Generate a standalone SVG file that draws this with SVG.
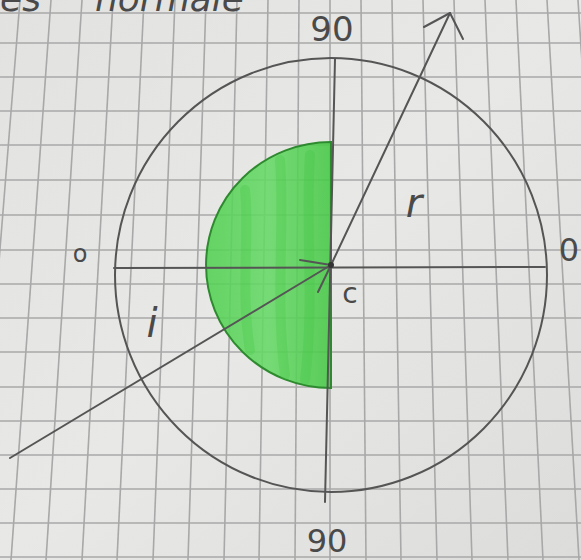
<svg xmlns="http://www.w3.org/2000/svg" width="581" height="560" viewBox="0 0 581 560">
<defs>
<linearGradient id="paper" x1="0" y1="0" x2="1" y2="1">
<stop offset="0" stop-color="#e2e2e0"/>
<stop offset="0.5" stop-color="#e8e8e6"/>
<stop offset="1" stop-color="#dcdcda"/>
</linearGradient>
<linearGradient id="green" x1="0" y1="0" x2="1" y2="0">
<stop offset="0" stop-color="#52d052"/>
<stop offset="0.5" stop-color="#66d966"/>
<stop offset="1" stop-color="#45c845"/>
</linearGradient>
</defs>
<style>
.grid{fill:none;stroke:#a8a8a8;stroke-width:1.6}
.pencil{fill:none;stroke:#555;stroke-width:2;stroke-linecap:round;stroke-linejoin:round}
.lbl{font-family:"DejaVu Sans","Liberation Sans",sans-serif;fill:#4a4a4a}
</style>
<rect x="0" y="0" width="581" height="560" fill="url(#paper)"/>
<g id="grid">
<g class="grid">
<line x1="20" y1="0" x2="-25" y2="560"/>
<line x1="51" y1="0" x2="11" y2="560"/>
<line x1="82" y1="0" x2="46" y2="560"/>
<line x1="113" y1="0" x2="82" y2="560"/>
<line x1="144" y1="0" x2="117" y2="560"/>
<line x1="175" y1="0" x2="153" y2="560"/>
<line x1="206" y1="0" x2="188" y2="560"/>
<line x1="237" y1="0" x2="224" y2="560"/>
<line x1="268" y1="0" x2="259" y2="560"/>
<line x1="299" y1="0" x2="295" y2="560"/>
<line x1="330" y1="0" x2="330" y2="560"/>
<line x1="361" y1="0" x2="366" y2="560"/>
<line x1="392" y1="0" x2="401" y2="560"/>
<line x1="423" y1="0" x2="437" y2="560"/>
<line x1="454" y1="0" x2="472" y2="560"/>
<line x1="485" y1="0" x2="508" y2="560"/>
<line x1="516" y1="0" x2="543" y2="560"/>
<line x1="547" y1="0" x2="579" y2="560"/>
<line x1="578" y1="0" x2="614" y2="560"/>
<line x1="0" y1="13" x2="581" y2="13"/>
<line x1="0" y1="43" x2="581" y2="43"/>
<line x1="0" y1="77" x2="581" y2="77"/>
<line x1="0" y1="111" x2="581" y2="111"/>
<line x1="0" y1="145" x2="581" y2="145"/>
<line x1="0" y1="180" x2="581" y2="180"/>
<line x1="0" y1="215" x2="581" y2="215"/>
<line x1="0" y1="250" x2="581" y2="250"/>
<line x1="0" y1="284" x2="581" y2="284"/>
<line x1="0" y1="318" x2="581" y2="318"/>
<line x1="0" y1="352" x2="581" y2="352"/>
<line x1="0" y1="387" x2="581" y2="387"/>
<line x1="0" y1="421" x2="581" y2="421"/>
<line x1="0" y1="455" x2="581" y2="455"/>
<line x1="0" y1="489" x2="581" y2="489"/>
<line x1="0" y1="523" x2="581" y2="523"/>
<line x1="0" y1="557" x2="581" y2="557"/>
</g>
</g>
<g id="halfdisk">
<path d="M331,142 A125,123 0 0 0 331,388 Z" fill="url(#green)" fill-opacity="0.88" stroke="#2e8a2e" stroke-width="2"/>
<path d="M245,190 C250,230 240,290 250,350 M280,160 C285,220 275,300 285,375 M310,155 C305,230 315,300 305,380" fill="none" stroke="#3cc23c" stroke-width="10" stroke-opacity="0.25" stroke-linecap="round"/>
</g>
<g id="circle">
<ellipse cx="331" cy="275" rx="216" ry="217" class="pencil" stroke-width="1.8"/>
</g>
<g id="connectors">
<line x1="335" y1="59" x2="325" y2="502" class="pencil"/>
<line x1="114" y1="268" x2="545" y2="267" class="pencil"/>
<line x1="10" y1="458" x2="331" y2="265" class="pencil"/>
<path d="M300,260 L331,265 L318,292" class="pencil"/>
<line x1="331" y1="265" x2="450" y2="13" class="pencil"/>
<path d="M424,27 L450,13 L463,39" class="pencil"/>
<circle cx="331" cy="265" r="3" fill="#333"/>
</g>
<g id="labels">
<text class="lbl" x="332" y="41" font-size="34" text-anchor="middle">90</text>
<text class="lbl" x="327" y="552" font-size="32" text-anchor="middle">90</text>
<text class="lbl" x="80" y="262" font-size="24" text-anchor="middle">o</text>
<text class="lbl" x="569" y="261" font-size="32" text-anchor="middle">0</text>
<text class="lbl" x="414" y="217" font-size="40" text-anchor="middle" font-style="italic">r</text>
<text class="lbl" x="152" y="337" font-size="40" text-anchor="middle" font-style="italic">i</text>
<text class="lbl" x="350" y="303" font-size="28" text-anchor="middle">c</text>
<text class="lbl" x="0" y="11" font-size="36" font-style="italic">es</text>
<text class="lbl" x="95" y="11" font-size="36" font-style="italic">normale</text>
</g>
</svg>
